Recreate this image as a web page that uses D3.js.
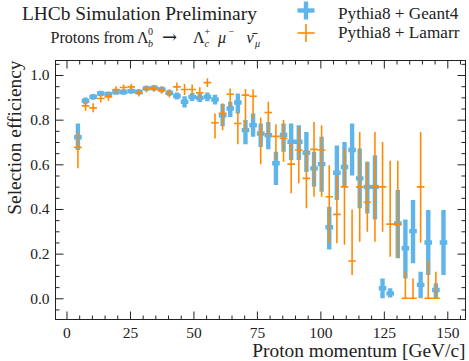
<!DOCTYPE html>
<html>
<head>
<meta charset="utf-8">
<script src="https://cdn.jsdelivr.net/npm/d3@7"></script>
<style>
  html, body { margin: 0; padding: 0; background: #fff; }
  svg { display: block; font-family: "Liberation Serif", "Times New Roman", serif; }
</style>
</head>
<body>
<svg id="chart" width="469" height="361"></svg>
<script>
// Proton momentum bin centres [GeV/c] (3 GeV wide bins)
const momentum = [4.5, 7.5, 10.5, 13.5, 16.5, 19.5, 22.5, 25.5, 28.5, 31.5, 34.5, 37.5, 40.5,
  43.5, 46.5, 49.5, 52.5, 55.5, 58.5, 61.5, 64.5, 67.5, 70.5, 73.5, 76.5, 79.5, 82.5, 85.5,
  88.5, 91.5, 94.5, 97.5, 100.5, 103.5, 106.5, 109.5, 112.5, 115.5, 118.5, 121.5, 124.5,
  127.5, 130.5, 133.5, 136.5, 139.5, 142.5, 145.5, 148.5];
const binHalfWidth = 1.5;

// Pythia8 + Geant4: efficiency and lower / upper error-bar ends
const geant4Eff = [0.721, 0.884, 0.902, 0.917, 0.914, 0.924, 0.924, 0.928, 0.924, 0.940, 0.942,
  0.935, 0.920, 0.906, 0.880, 0.902, 0.897, 0.902, 0.890, 0.820, 0.850, 0.877, 0.753, 0.775,
  0.738, 0.730, 0.605, 0.731, 0.701, 0.701, 0.652, 0.582, 0.601, 0.318, 0.562, 0.588, 0.664,
  0.537, 0.499, 0.499, 0.045, 0.022, 0.335, 0.224, 0.301, 0.060, 0.250, 0.037, 0.250];
const geant4Lo = [0.664, 0.869, 0.889, 0.905, 0.902, 0.912, 0.912, 0.916, 0.912, 0.928, 0.930,
  0.922, 0.906, 0.890, 0.855, 0.884, 0.879, 0.882, 0.868, 0.770, 0.812, 0.828, 0.690, 0.723,
  0.678, 0.667, 0.507, 0.656, 0.619, 0.619, 0.566, 0.499, 0.477, 0.219, 0.440, 0.499, 0.550,
  0.403, 0.380, 0.353, 0.000, 0.004, 0.179, 0.089, 0.157, 0.000, 0.104, 0.000, 0.104];
const geant4Hi = [0.783, 0.899, 0.915, 0.929, 0.926, 0.936, 0.936, 0.940, 0.936, 0.952, 0.954,
  0.948, 0.934, 0.922, 0.905, 0.920, 0.915, 0.922, 0.912, 0.870, 0.880, 0.917, 0.798, 0.828,
  0.783, 0.790, 0.656, 0.783, 0.783, 0.775, 0.745, 0.656, 0.723, 0.410, 0.684, 0.700, 0.783,
  0.671, 0.611, 0.641, 0.089, 0.045, 0.485, 0.353, 0.440, 0.119, 0.395, 0.067, 0.395];

// Pythia8 + Lamarr: efficiency and lower / upper error-bar ends (last bin empty)
const lamarrEff = [0.676, 0.862, 0.853, 0.895, 0.902, 0.935, 0.944, 0.947, 0.920, 0.937, 0.940,
  0.932, 0.917, 0.947, 0.935, 0.935, 0.920, 0.966, 0.786, 0.828, 0.914, 0.783, 0.910, 0.905,
  0.738, 0.832, 0.725, 0.716, 0.601, 0.664, 0.537, 0.667, 0.664, 0.455, 0.376, 0.499, 0.167,
  0.499, 0.430, 0.499, 0.499, 0.332, 0.332, 0.000, 0.000, 0.499, 0.000, 0.000, null];
const lamarrLo = [0.582, 0.840, 0.833, 0.877, 0.885, 0.920, 0.930, 0.933, 0.904, 0.922, 0.925,
  0.916, 0.899, 0.927, 0.910, 0.913, 0.895, 0.946, 0.716, 0.753, 0.857, 0.690, 0.753, 0.805,
  0.600, 0.723, 0.620, 0.611, 0.470, 0.515, 0.403, 0.455, 0.455, 0.246, 0.246, 0.240, 0.104,
  0.253, 0.298, 0.253, 0.298, 0.186, 0.180, 0.000, 0.000, 0.249, 0.000, 0.000, null];
const lamarrHi = [0.745, 0.884, 0.873, 0.913, 0.919, 0.950, 0.958, 0.961, 0.936, 0.952, 0.955,
  0.948, 0.935, 0.967, 0.960, 0.957, 0.945, 0.986, 0.828, 0.873, 0.940, 0.835, 0.937, 0.935,
  0.810, 0.880, 0.780, 0.798, 0.694, 0.768, 0.664, 0.790, 0.775, 0.596, 0.550, 0.671, 0.398,
  0.745, 0.611, 0.745, 0.700, 0.616, 0.616, 0.119, 0.089, 0.745, 0.171, 0.119, null];

const xTicks = [0, 25, 50, 75, 100, 125, 150];
const yTicks = [0.0, 0.2, 0.4, 0.6, 0.8, 1.0];
const xMinorTicks = [5, 10, 15, 20, 30, 35, 40, 45, 55, 60, 65, 70, 80, 85, 90, 95,
  105, 110, 115, 120, 130, 135, 140, 145, 155];
const yMinorTicks = [-0.05, 0.05, 0.1, 0.15, 0.25, 0.3, 0.35, 0.45, 0.5, 0.55, 0.65, 0.7,
  0.75, 0.85, 0.9, 0.95, 1.05];

const seriesNames = ["Pythia8 + Geant4", "Pythia8 + Lamarr"];
const seriesColors = ["#5fb5ea", "#ff8a05"];

const svg = d3.select("#chart");
const plotLeft = 55.5, plotRight = 465.5, plotTop = 60.5, plotBottom = 319.5;
const x = d3.scaleLinear().domain([-4.33, 157.17]).range([plotLeft, plotRight]);
const y = d3.scaleLinear().domain([-0.095, 1.065]).range([plotBottom, plotTop]);
const ink = "#222";

svg.append("defs").append("clipPath").attr("id", "plotClip")
  .append("rect").attr("x", plotLeft).attr("y", plotTop)
  .attr("width", plotRight - plotLeft).attr("height", plotBottom - plotTop);

// error-bar series
function drawSeries(eff, lo, hi, color, width) {
  const rows = momentum.map((m, i) => ({ m, v: eff[i], lo: lo[i], hi: hi[i] })).filter(d => d.v !== null);
  const g = svg.append("g").attr("clip-path", "url(#plotClip)");
  g.selectAll("line.v").data(rows).join("line").attr("class", "v")
    .attr("x1", d => x(d.m)).attr("x2", d => x(d.m))
    .attr("y1", d => y(d.lo)).attr("y2", d => y(d.hi))
    .attr("stroke", color).attr("stroke-width", width);
  g.selectAll("line.h").data(rows).join("line").attr("class", "h")
    .attr("x1", d => x(d.m - binHalfWidth)).attr("x2", d => x(d.m + binHalfWidth))
    .attr("y1", d => y(d.v)).attr("y2", d => y(d.v))
    .attr("stroke", color).attr("stroke-width", width);
}
drawSeries(geant4Eff, geant4Lo, geant4Hi, seriesColors[0], 4.4);
drawSeries(lamarrEff, lamarrLo, lamarrHi, seriesColors[1], 1.6);

// axes with inward ticks on all four sides
function styleAxis(g) {
  g.select(".domain").remove();
  g.selectAll(".tick line").attr("stroke", ink).attr("stroke-width", 1);
  g.selectAll(".tick text").attr("fill", ink).attr("font-size", 15.5)
    .attr("font-family", "'Liberation Serif', 'Times New Roman', serif");
}
svg.append("g").attr("transform", `translate(0,${plotBottom})`)
  .call(d3.axisBottom(x).tickValues(xTicks).tickSize(-8).tickPadding(7).tickFormat(d3.format("d")))
  .call(styleAxis);
svg.append("g").attr("transform", `translate(0,${plotBottom})`)
  .call(d3.axisBottom(x).tickValues(xMinorTicks).tickSize(-4).tickFormat(""))
  .call(styleAxis);
svg.append("g").attr("transform", `translate(0,${plotTop})`)
  .call(d3.axisTop(x).tickValues(xTicks).tickSize(-8).tickFormat(""))
  .call(styleAxis);
svg.append("g").attr("transform", `translate(0,${plotTop})`)
  .call(d3.axisTop(x).tickValues(xMinorTicks).tickSize(-4).tickFormat(""))
  .call(styleAxis);
svg.append("g").attr("transform", `translate(${plotLeft},0)`)
  .call(d3.axisLeft(y).tickValues(yTicks).tickSize(-8).tickPadding(6).tickFormat(d3.format(".1f")))
  .call(styleAxis);
svg.append("g").attr("transform", `translate(${plotLeft},0)`)
  .call(d3.axisLeft(y).tickValues(yMinorTicks).tickSize(-4).tickFormat(""))
  .call(styleAxis);
svg.append("g").attr("transform", `translate(${plotRight},0)`)
  .call(d3.axisRight(y).tickValues(yTicks).tickSize(-8).tickFormat(""))
  .call(styleAxis);
svg.append("g").attr("transform", `translate(${plotRight},0)`)
  .call(d3.axisRight(y).tickValues(yMinorTicks).tickSize(-4).tickFormat(""))
  .call(styleAxis);

svg.append("rect").attr("x", plotLeft).attr("y", plotTop)
  .attr("width", plotRight - plotLeft).attr("height", plotBottom - plotTop)
  .attr("fill", "none").attr("stroke", ink).attr("stroke-width", 1);

// axis titles
svg.append("text").attr("x", plotRight).attr("y", 357).attr("text-anchor", "end")
  .attr("font-size", 19.4).attr("fill", ink).text("Proton momentum [GeV/c]");
svg.append("text").attr("transform", `translate(21,${plotTop}) rotate(-90)`)
  .attr("text-anchor", "end").attr("font-size", 19.4).attr("fill", ink).text("Selection efficiency");

// header
svg.append("text").attr("x", 22).attr("y", 20).attr("font-size", 19.4).attr("fill", ink)
  .text("LHCb Simulation Preliminary");

// decay line: main symbols, then stacked super/subscripts
const decayBase = 42.5;
const decayParts = [
  { t: "Protons from", x: 50.5, dy: 0, size: 16, italic: false },
  { t: "\u039B", x: 137, dy: 0, size: 16, italic: false },
  { t: "0", x: 148, dy: -7.5, size: 10, italic: false },
  { t: "b", x: 148, dy: 4, size: 10, italic: true },
  { t: "\u2192", x: 162, dy: 0, size: 18, italic: false, family: "'DejaVu Serif', serif" },
  { t: "\u039B", x: 193, dy: 0, size: 16, italic: false },
  { t: "+", x: 204.5, dy: -7.5, size: 10, italic: false },
  { t: "c", x: 204.5, dy: 4, size: 10, italic: true },
  { t: "\u03BC", x: 218, dy: 0, size: 16, italic: true },
  { t: "\u2212", x: 228.5, dy: -7.5, size: 10, italic: false },
  { t: "\u03BD\u0304", x: 246.5, dy: 0, size: 16, italic: true },
  { t: "\u03BC", x: 255, dy: 4, size: 10, italic: true }
];
const decay = svg.append("g");
decayParts.forEach(p => {
  const t = decay.append("text").attr("x", p.x).attr("y", decayBase + p.dy)
    .attr("font-size", p.size).attr("font-style", p.italic ? "italic" : "normal")
    .attr("fill", ink).text(p.t);
  if (p.family) t.attr("font-family", p.family);
});

// legend
const legendRows = [
  { name: seriesNames[0], color: seriesColors[0], width: 4.4, cy: 10.5, ty: 18.5 },
  { name: seriesNames[1], color: seriesColors[1], width: 1.6, cy: 33, ty: 37.5 }
];
const lg = svg.append("g");
legendRows.forEach(r => {
  lg.append("line").attr("x1", 306).attr("x2", 306).attr("y1", r.cy - 9).attr("y2", r.cy + 9)
    .attr("stroke", r.color).attr("stroke-width", r.width);
  lg.append("line").attr("x1", 297.5).attr("x2", 314.5).attr("y1", r.cy).attr("y2", r.cy)
    .attr("stroke", r.color).attr("stroke-width", r.width);
  lg.append("text").attr("x", 338).attr("y", r.ty).attr("font-size", 17.2).attr("fill", ink).text(r.name);
});
</script>
</body>
</html>
